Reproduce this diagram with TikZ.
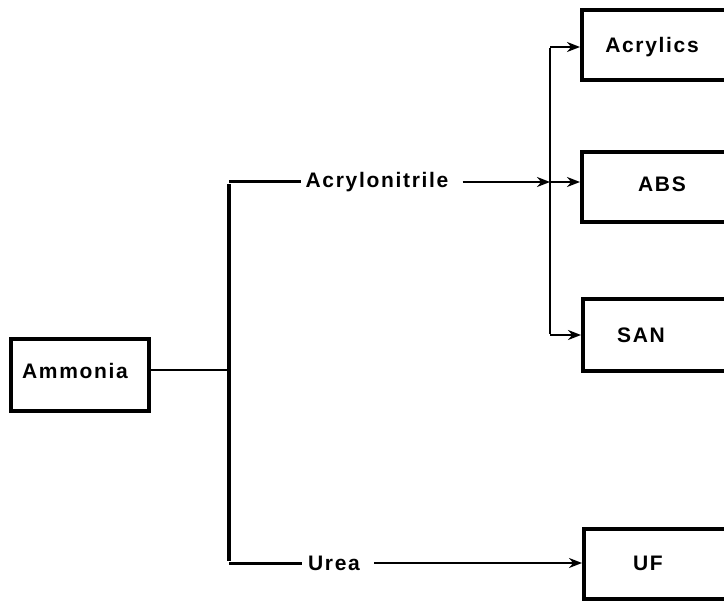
\documentclass[tikz,border=0pt]{standalone}
\usepackage{fontspec}
\setmainfont{Liberation Sans}[LetterSpace=8]
\usetikzlibrary{arrows.meta}
\begin{document}
\begin{tikzpicture}[x=1pt,y=-1pt,
  box/.style={draw,line width=3.6pt,rectangle,inner sep=0pt,anchor=north west},
  lbl/.style={font=\fontsize{21}{24}\selectfont\bfseries,inner sep=0pt},
  thin/.style={line width=2.4pt},
  arr/.style={thin,-{Stealth[length=13pt,width=10pt]}},
  bar/.style={line width=4.5pt}]
\clip (0,0) rectangle (724,604);
\fill[white] (0,0) rectangle (724,604);
% boxes
\node[box,minimum width=138pt,minimum height=72pt] (amm) at (9,337) {};
\node[lbl] (ammt) at (75,371) {Ammonia};
\node[box,minimum width=200pt,minimum height=70pt] (acr) at (580,8) {};
\node[lbl] (acrt) at (652,47) {Acrylics};
\node[box,minimum width=200pt,minimum height=70pt] (abs) at (580,150) {};
\node[lbl] (abst) at (662,184) {ABS};
\node[box,minimum width=200pt,minimum height=72pt] (san) at (581,297) {};
\node[lbl] (sant) at (641,335) {SAN};
\node[box,minimum width=200pt,minimum height=70pt] (uf) at (582,527) {};
\node[lbl] (uft) at (648,563) {UF};
% intermediate labels
\node[lbl,inner xsep=4pt] (acn) at (377,182) {Acrylonitrile};
\node[lbl,inner xsep=6pt] (urea) at (334,563) {Urea};
% junctions
\coordinate (jA) at (229,370);
\coordinate (jT) at (229,182);
\coordinate (jB) at (229,563);
\coordinate (sT) at (550,47);
\coordinate (sM) at (550,182);
\coordinate (sB) at (550,335);
% connectors
\draw[thin] (amm.east |- jA) -- (jA);
\draw[bar] ([yshift=-2pt]jT) -- ([yshift=2pt]jB);
\draw[bar,line width=3pt] (jT) -- (acn.west);
\draw[bar,line width=3pt] (jB) -- (urea.west);
\draw[arr] ([xshift=10pt]acn.east) -- (sM);
\draw[thin] ([yshift=-1.2pt]sT) -- ([yshift=1.2pt]sB);
\draw[arr] (sT) -- (acr.west |- sT);
\draw[arr] (sM) -- (abs.west |- sM);
\draw[arr] (sB) -- (san.west |- sB);
\draw[arr] ([xshift=8pt]urea.east) -- (uf.west |- jB);
\end{tikzpicture}
\end{document}
